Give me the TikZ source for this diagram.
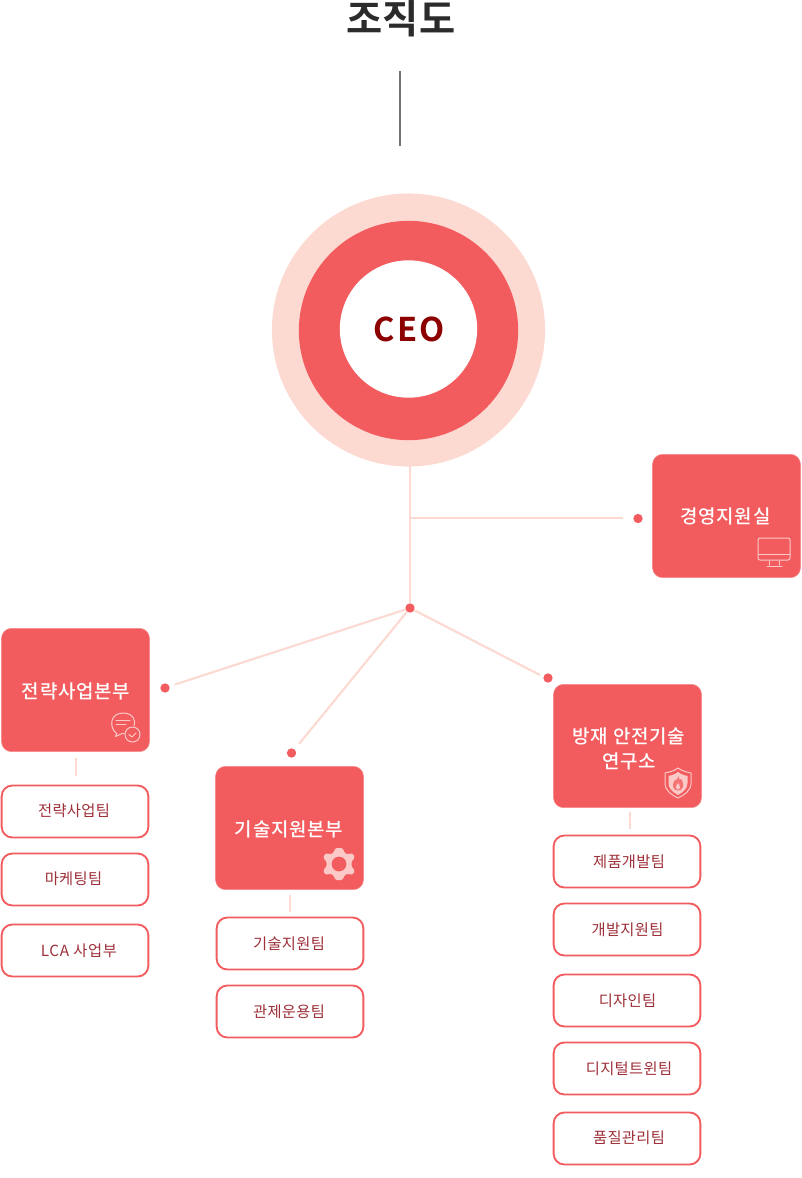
\documentclass[tikz,border=0pt]{standalone}
\usepackage{fontspec}
\newfontfamily\krb{Noto Sans CJK KR Bold}
\newfontfamily\krsp[LetterSpace=4]{Noto Sans CJK KR Medium}
\newfontfamily\krtm[LetterSpace=2.2]{Noto Sans CJK KR}
\newfontfamily\krlca[LetterSpace=4.5]{Noto Sans CJK KR}
\newfontfamily\krceo[LetterSpace=7]{Noto Sans CJK KR Bold}
\definecolor{main}{HTML}{F35C5E}
\definecolor{pale}{HTML}{FDDAD1}
\definecolor{teamtxt}{HTML}{9E3039}
\definecolor{icon}{HTML}{FBC9C8}
\tikzset{
  link/.style={draw=pale,line width=1.6pt},
  dotn/.style={circle,fill=main,inner sep=0pt,minimum size=7pt},
  dept/.style={rectangle,rounded corners=7.5pt,fill=main,draw=main!70!white,line width=.4pt,minimum width=111pt,minimum height=92.5pt,inner sep=0pt},
  deptlabel/.style={inner sep=0pt,text=white,align=center,font=\fontsize{14.2pt}{18.2pt}\krsp},
  team/.style={rectangle,rounded corners=8pt,draw=main,fill=white,line width=1.4pt,minimum width=110pt,minimum height=39pt,inner sep=0pt},
  teamlabel/.style={inner sep=0pt,text=teamtxt,font=\fontsize{11.5pt}{14pt}\krtm},
  ic/.style={draw=icon,line width=.75pt,fill=none,line cap=round,line join=round},
}
\begin{document}
\begin{tikzpicture}[x=.75pt,y=-.75pt]
\useasboundingbox (0,0) rectangle (801,1178);
\fill[white] (0,0) rectangle (801,1178);
\node[inner sep=0pt,text=black!83,font=\fontsize{29.5pt}{32pt}\krb] (title) at (401,19) {조직도};
\coordinate (tickA) at (400,71);
\coordinate (tickB) at (400,146);
\draw[draw=black!55,line width=1pt] (tickA) -- (tickB);
% CEO circles
\node[circle,fill=pale,inner sep=0pt,minimum size=204.8pt] (outer) at (408.5,330) {};
\node[circle,fill=main,inner sep=0pt,minimum size=164.5pt] (mid) at (408.5,330.5) {};
\node[circle,fill=white,inner sep=0pt,minimum size=103pt] (inner) at (408.5,329) {};
\node[inner sep=0pt,text=red!55!black,font=\fontsize{24.5pt}{30pt}\krceo] (ceo) at (409,329.5) {CEO};
% connectors
\node[dotn] (hub) at (410,608) {};
\node[dotn] (dotR) at (638,518.5) {};
\node[dotn] (dotA) at (165,688) {};
\node[dotn] (dotB) at (291.5,753) {};
\node[dotn] (dotC) at (548,678) {};
\coordinate (top) at (410,466);
\coordinate (branch) at (410,518);
\coordinate (endR) at (623,518);
\coordinate (endA) at (175,684.5);
\coordinate (endB) at (299,744);
\coordinate (endC) at (540,675);
\draw[link] (top) -- (hub);
\draw[link] (branch) -- (endR);
\draw[link] (hub) -- (endA);
\draw[link] (hub) -- (endB);
\draw[link] (hub) -- (endC);
% departments
\node[dept] (mgmt) at (726.5,516) {};
\node[dept] (strat) at (75.5,690) {};
\node[dept] (tech) at (289.5,828) {};
\node[dept] (lab) at (627.5,746) {};
\node[deptlabel] (mgmtT) at (725.5,516.5) {경영지원실};
\node[deptlabel] (stratT) at (76,691) {전략사업본부};
\node[deptlabel] (techT) at (289,829.5) {기술지원본부};
\node[deptlabel] (labT) at (629,749) {방재 안전기술\\연구소};
% teams
\node[team] (s1) at (75,811.5) {};
\node[team] (s2) at (75,879.5) {};
\node[team] (s3) at (75,950.5) {};
\node[team] (t1) at (290,943.5) {};
\node[team] (t2) at (290,1011.5) {};
\node[team] (l1) at (627,861.5) {};
\node[team] (l2) at (627,929.5) {};
\node[team] (l3) at (627,1000.5) {};
\node[team] (l4) at (627,1068.5) {};
\node[team] (l5) at (627,1138.5) {};
\node[teamlabel] (s1T) at (74,811) {전략사업팀};
\node[teamlabel] (s2T) at (73.5,879) {마케팅팀};
\node[teamlabel] (s3T) at (79,951) {\krlca LCA 사업부};
\node[teamlabel] (t1T) at (289,944) {기술지원팀};
\node[teamlabel] (t2T) at (289,1012) {관제운용팀};
\node[teamlabel] (l1T) at (629,861.5) {제품개발팀};
\node[teamlabel] (l2T) at (627.5,930) {개발지원팀};
\node[teamlabel] (l3T) at (627.5,1001) {디자인팀};
\node[teamlabel] (l4T) at (629,1068.5) {디지털트윈팀};
\node[teamlabel] (l5T) at (629,1138) {품질관리팀};
% stubs
\coordinate (sa) at (76,758); \coordinate (sb) at (76,776);
\coordinate (ta) at (290,895); \coordinate (tb) at (290,912);
\coordinate (la) at (630,812); \coordinate (lb) at (630,829);
\draw[link] (sa) -- (sb);
\draw[link] (ta) -- (tb);
\draw[link] (la) -- (lb);
% monitor icon
\draw[ic,rounded corners=1.5pt] (758,538) rectangle (790,560);
\draw[ic] (758,554) -- (790,554) (769,561) -- (769,565) (779,561) -- (779,565) (767,566) -- (782,566);
% chat icon
\draw[ic] (116,733) .. controls (109,727) and (110,713) .. (123,713) .. controls (134,713) and (136,722) .. (134,726);
\draw[ic] (117,733) -- (115.5,736.5) -- (122,733.5) -- (124,733.5);
\draw[ic] (116,720) -- (130,720) (116,724.5) -- (126,724.5);
\draw[ic] (132.5,734.5) circle (7.5);
\draw[ic] (129,734.5) -- (132,737) -- (136,733);
% gear icon
\begin{scope}[shift={(339,864)}]
\fill[icon,even odd rule,rounded corners=1.2pt]
 (-4,-16) -- (4,-16) -- (5,-11.5) -- (9,-9.5) -- (13.5,-11) -- (16,-6) -- (12.5,-3) -- (12.5,3) -- (16,6) -- (13.5,11) -- (9,9.5) -- (5,11.5) -- (4,16) -- (-4,16) -- (-5,11.5) -- (-9,9.5) -- (-13.5,11) -- (-16,6) -- (-12.5,3) -- (-12.5,-3) -- (-16,-6) -- (-13.5,-11) -- (-9,-9.5) -- (-5,-11.5) -- cycle
 (0,0) circle (7.5);
\end{scope}
% shield icon
\draw[ic,fill=main] (678,768) .. controls (672,772) and (669,772) .. (665,773) -- (665,783) .. controls (665,791) and (672,795) .. (678,798) .. controls (684,795) and (691,791) .. (691,783) -- (691,773) .. controls (687,772) and (684,772) .. (678,768) -- cycle;
\fill[icon] (678,772) .. controls (674,775) and (672,775) .. (668.5,776) -- (668.5,783) .. controls (668.5,789) and (673,792) .. (678,795) .. controls (683,792) and (687.5,789) .. (687.5,783) -- (687.5,776) .. controls (684,775) and (682,775) .. (678,772) -- cycle;
\fill[main!85!white] (678.5,776) .. controls (679,780) and (680.5,780) .. (681,779) .. controls (683,782) and (684,784) .. (683,787) .. controls (682,790) and (680,790.5) .. (678,790.5) .. controls (676,790.5) and (674,790) .. (673,787) .. controls (672,784) and (674,782) .. (675,780) .. controls (676,781) and (677,780) .. (678.5,776) -- cycle;
\fill[icon] (678,783) .. controls (679,785) and (680.5,786) .. (680,788) .. controls (679.5,790) and (676.5,790) .. (676,788) .. controls (675.5,786) and (677,785) .. (678,783) -- cycle;
\end{tikzpicture}
\end{document}
